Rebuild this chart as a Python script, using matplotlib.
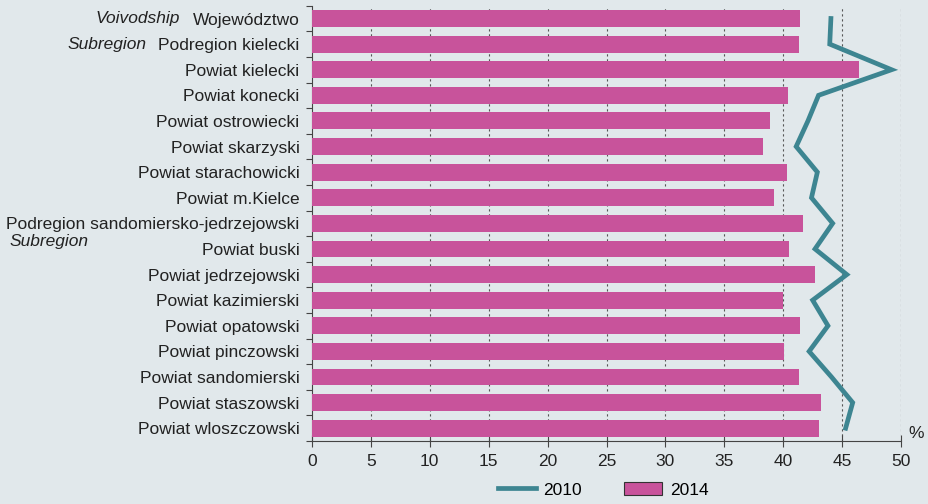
import numpy as np
import matplotlib.pyplot as plt
from matplotlib import transforms

plt.rcParams['font.family'] = ['Liberation Sans', 'DejaVu Sans']

labels = ['Województwo', 'Podregion kielecki', 'Powiat kielecki', 'Powiat konecki',
          'Powiat ostrowiecki', 'Powiat skarzyski', 'Powiat starachowicki',
          'Powiat m.Kielce', 'Podregion sandomiersko-jedrzejowski', 'Powiat buski',
          'Powiat jedrzejowski', 'Powiat kazimierski', 'Powiat opatowski',
          'Powiat pinczowski', 'Powiat sandomierski', 'Powiat staszowski',
          'Powiat wloszczowski']

vals_2014 = [41.4, 41.3, 46.4, 40.4, 38.9, 38.3, 40.3, 39.2, 41.7, 40.5,
             42.7, 40.0, 41.4, 40.1, 41.3, 43.2, 43.0]
vals_2010 = [44.05, 43.95, 49.2, 43.0, 42.1, 41.1, 42.9, 42.4, 44.2, 42.7,
             45.4, 42.5, 43.8, 42.2, 44.1, 45.9, 45.3]

xticks = [0, 5, 10, 15, 20, 25, 30, 35, 40, 45, 50]

bg = '#e1e8eb'
pink = '#c8539b'
teal = '#3d8591'
fs = 12.5

fig = plt.figure(figsize=(9.29, 5.04), dpi=100, facecolor=bg)
ax = fig.add_axes([312/929, 1 - 441/504, (901 - 312)/929, (441 - 5.7)/504])
ax.set_facecolor(bg)

y = np.arange(len(labels))
ax.barh(y, vals_2014, height=0.66, color=pink, label='2014', zorder=3)
ax.plot(vals_2010, y, color=teal, lw=3.4, label='2010', zorder=4,
        solid_joinstyle='miter')

ax.set_xlim(0, 50)
ax.set_ylim(len(labels) - 0.5, -0.5)
ax.set_xticks(xticks)
ax.set_yticks(y)
ax.set_yticklabels(labels)
ax.set_yticks(np.arange(-0.5, len(labels), 1), minor=True)
ax.tick_params(axis='y', which='major', length=0, pad=9, labelsize=fs, colors='#222222')
ax.tick_params(axis='y', which='minor', length=4, width=0.8, color='#444444')
ax.tick_params(axis='x', length=8, direction='inout', width=0.8, color='#444444',
               labelsize=fs, labelcolor='#222222', pad=5)

for xv in xticks[1:]:
    ax.axvline(xv, color='#555555', lw=0.8, ls=(0, (2, 2.5)), zorder=1)

for s in ['top', 'right']:
    ax.spines[s].set_visible(False)
ax.spines['left'].set_color('#444444')
ax.spines['bottom'].set_color('#444444')
ax.spines['left'].set_linewidth(0.8)
ax.spines['bottom'].set_linewidth(0.8)

ax.text(1.012, 0.0, '%', transform=ax.transAxes, fontsize=fs, color='#222222',
        ha='left', va='bottom')

tr = transforms.blended_transform_factory(fig.transFigure, ax.transData)
ax.text(180/929, 0, 'Voivodship', transform=tr, style='italic', fontsize=fs,
        ha='right', va='center', color='#222222')
ax.text(146/929, 1, 'Subregion', transform=tr, style='italic', fontsize=fs,
        ha='right', va='center', color='#222222')
ax.text(10/929, 8.72, 'Subregion', transform=tr, style='italic', fontsize=fs,
        ha='left', va='center', color='#222222')

handles, lbls = ax.get_legend_handles_labels()
order = [lbls.index('2010'), lbls.index('2014')]
leg = fig.legend([handles[i] for i in order], [lbls[i] for i in order],
                 loc='center', bbox_to_anchor=(603/929, 0.028), ncol=2,
                 frameon=False, fontsize=fs, handlelength=2.2, columnspacing=2.4,
                 handletextpad=0.45, handleheight=0.8)
for p in leg.get_patches():
    p.set_edgecolor('#333333')
    p.set_linewidth(0.8)

fig.savefig('out.png', dpi=100, facecolor=bg)
